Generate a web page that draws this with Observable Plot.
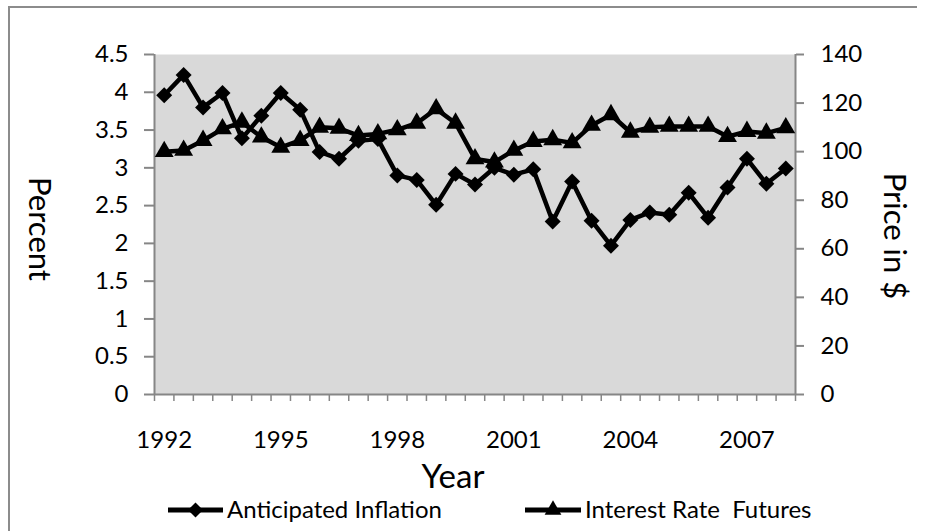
<!DOCTYPE html>
<html>
<head>
<meta charset="utf-8">
<script src="https://cdn.jsdelivr.net/npm/d3@7"></script>
<script src="https://cdn.jsdelivr.net/npm/@observablehq/plot@0.6"></script>
<style>
  html, body { margin: 0; padding: 0; background: #fff; }
  svg text { font-family: Lato, "Open Sans", sans-serif; }
</style>
</head>
<body>
<div id="chart"></div>
<script>
// Half-yearly observations, 1992 to 2008
const periods = ["1992","1992.5","1993","1993.5","1994","1994.5","1995","1995.5","1996","1996.5","1997","1997.5","1998","1998.5","1999","1999.5","2000","2000.5","2001","2001.5","2002","2002.5","2003","2003.5","2004","2004.5","2005","2005.5","2006","2006.5","2007","2007.5","2008"];
const anticipatedInflation = [3.96,4.23,3.80,3.99,3.39,3.69,3.99,3.77,3.21,3.12,3.36,3.38,2.90,2.84,2.51,2.92,2.78,3.00,2.91,2.98,2.29,2.82,2.30,1.97,2.31,2.41,2.38,2.67,2.34,2.74,3.12,2.79,2.99];
const interestRateFutures = [100,100.5,104.6,109.4,112.1,106,101.8,104.6,110,109.6,106.6,107.3,109,111.7,117.6,111.7,97,95.7,100.5,104.2,104.9,103.6,110.8,115.2,108,110,110.4,110.4,110.4,106.2,108.3,107.6,109.8];
const xTickLabels = ["1992","1995","1998","2001","2004","2007"];
const leftTicks = [0,0.5,1,1.5,2,2.5,3,3.5,4,4.5];
const rightTicks = [0,20,40,60,80,100,120,140];
const leftMax = 4.5, rightMax = 140;
const seriesNames = ["Anticipated Inflation","Interest Rate  Futures"];

const toLeft = v => v * leftMax / rightMax;
const data = periods.map((p, i) => ({i, p, infl: anticipatedInflation[i], fut: toLeft(interestRateFutures[i])}));
const n = periods.length;
const boundaries = d3.range(n + 1).map(k => k - 0.5);
const labelIdx = xTickLabels.map(l => periods.indexOf(l));

const axisGray = "#868686";
const W = 926, H = 531;
const FS = 24;

const chart = Plot.plot({
  width: W, height: H,
  marginLeft: 154, marginRight: 131, marginTop: 54, marginBottom: 137,
  style: {fontFamily: "Lato, 'Open Sans', sans-serif", fontSize: FS + "px", color: "#000", background: "#fff"},
  x: {domain: [-0.5, n - 0.5], axis: null},
  y: {domain: [0, leftMax], axis: null},
  marks: [
    Plot.frame({fill: "#d9d9d9", stroke: null}),
    Plot.axisY({ticks: leftTicks, anchor: "left", tickSize: 10, tickPadding: 16, stroke: axisGray, strokeWidth: 2, fontSize: FS, label: null, tickFormat: d => String(d)}),
    Plot.axisY({ticks: rightTicks.map(toLeft), anchor: "right", tickSize: 8, tickPadding: 17, stroke: axisGray, strokeWidth: 2, fontSize: FS, label: null, tickFormat: d => String(Math.round(d * rightMax / leftMax))}),
    Plot.axisX({ticks: boundaries, anchor: "bottom", tickSize: 7, stroke: axisGray, strokeWidth: 1.5, tickFormat: () => "", label: null}),
    Plot.axisX({ticks: labelIdx, anchor: "bottom", tickSize: 0, tickPadding: 36, fontSize: FS, tickFormat: i => periods[i], label: null}),
    Plot.ruleX([-0.5, n - 0.5], {stroke: axisGray, strokeWidth: 2}),
    Plot.ruleY([0], {stroke: axisGray, strokeWidth: 2}),
    Plot.line(data, {x: "i", y: "fut", stroke: "#000", strokeWidth: 4.5}),
    Plot.dot(data, {x: "i", y: "fut", symbol: "triangle2", r: 9, fill: "#000"}),
    Plot.line(data, {x: "i", y: "infl", stroke: "#000", strokeWidth: 4.5}),
    Plot.dot(data, {x: "i", y: "infl", symbol: "diamond2", r: 7.2, fill: "#000"})
  ]
});

const svg = d3.select(chart);
svg.append("path").attr("d", `M9,${H} V7 H917`).attr("fill", "none").attr("stroke", "#8c8c8c").attr("stroke-width", 2);

svg.append("text").attr("transform", "translate(29,229) rotate(90)")
  .attr("text-anchor", "middle").attr("font-size", 31).attr("fill", "#000").text("Percent");
svg.append("text").attr("transform", "translate(884,236) rotate(90)")
  .attr("text-anchor", "middle").attr("font-size", 31).attr("fill", "#000").text("Price in $");
svg.append("text").attr("x", 453).attr("y", 488)
  .attr("text-anchor", "middle").attr("font-size", 33).attr("fill", "#000").text("Year");

const legendItems = [
  {name: seriesNames[0], x0: 168, x1: 223, sym: d3.symbolDiamond2, size: 6.8 * 6.8 * Math.PI},
  {name: seriesNames[1], x0: 525, x1: 581, sym: d3.symbolTriangle2, size: 8 * 8 * Math.PI}
];
const ly = 510;
for (const it of legendItems) {
  const g = svg.append("g");
  g.append("line").attr("x1", it.x0).attr("x2", it.x1).attr("y1", ly).attr("y2", ly).attr("stroke", "#000").attr("stroke-width", 5);
  g.append("path").attr("transform", `translate(${(it.x0 + it.x1) / 2},${ly})`).attr("d", d3.symbol(it.sym, it.size)()).attr("fill", "#000");
  g.append("text").attr("x", it.x1 + 4).attr("y", ly).attr("dy", "0.35em").attr("text-anchor", "start").attr("font-size", FS).attr("fill", "#000").style("white-space", "pre").text(it.name);
}

document.getElementById("chart").appendChild(chart);
</script>
</body>
</html>
